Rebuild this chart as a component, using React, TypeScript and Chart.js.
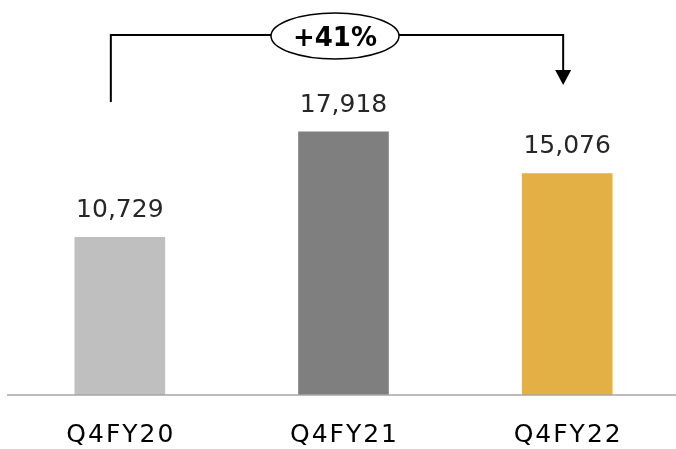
import React, { useEffect, useRef } from "react";
import { Chart, registerables } from "chart.js";

Chart.register(...registerables);

const categories = ["Q4FY20", "Q4FY21", "Q4FY22"];
const values = [10729, 17918, 15076];
const barColors = ["#BFBFBF", "#7F7F7F", "#E3B045"];
const growthLabel = "+41%";
const yMax = 26000;

const overlayPlugin = {
  id: "overlay",
  afterDatasetsDraw(chart: any) {
    const { ctx, chartArea } = chart;
    const xScale = chart.scales.x;
    const meta = chart.getDatasetMeta(0);
    ctx.save();

    // baseline axis line
    ctx.strokeStyle = "#A6A6A6";
    ctx.lineWidth = 1.6;
    ctx.beginPath();
    ctx.moveTo(7, chartArea.bottom);
    ctx.lineTo(676, chartArea.bottom);
    ctx.stroke();

    // value labels
    ctx.font = "25px 'DejaVu Sans'";
    ctx.fillStyle = "#262626";
    ctx.textAlign = "center";
    ctx.textBaseline = "alphabetic";
    meta.data.forEach((bar: any, i: number) => {
      ctx.fillText(values[i].toLocaleString("en-US"), bar.x, bar.y - 20);
    });

    // category labels
    ctx.fillStyle = "#000000";
    const sp = 2;
    (ctx as any).letterSpacing = sp + "px";
    categories.forEach((c, i) => {
      ctx.fillText(c, xScale.getPixelForValue(i) + sp / 2, chartArea.bottom + 47);
    });
    (ctx as any).letterSpacing = "0px";

    // growth bracket
    const xl = meta.data[0].x - 9;
    const xr = meta.data[2].x - 4;
    const yTop = 35;
    const cx = (xl + xr) / 2 - 2;
    const rx = 64;
    const ry = 23;
    ctx.strokeStyle = "#000000";
    ctx.lineWidth = 2;
    ctx.beginPath();
    ctx.moveTo(xl, 102);
    ctx.lineTo(xl, yTop);
    ctx.lineTo(cx - rx, yTop);
    ctx.moveTo(cx + rx, yTop);
    ctx.lineTo(xr, yTop);
    ctx.lineTo(xr, 71);
    ctx.stroke();
    ctx.fillStyle = "#000000";
    ctx.beginPath();
    ctx.moveTo(xr - 8, 70);
    ctx.lineTo(xr + 8, 70);
    ctx.lineTo(xr, 85);
    ctx.closePath();
    ctx.fill();

    ctx.lineWidth = 1.5;
    ctx.beginPath();
    ctx.ellipse(cx, yTop + 1, rx, ry, 0, 0, Math.PI * 2);
    ctx.fillStyle = "#FFFFFF";
    ctx.fill();
    ctx.stroke();

    ctx.fillStyle = "#000000";
    ctx.font = "bold 26px 'DejaVu Sans'";
    ctx.textAlign = "center";
    ctx.fillText(growthLabel, cx, 46);

    ctx.restore();
  },
};

export default function App() {
  const canvasRef = useRef<HTMLCanvasElement | null>(null);

  useEffect(() => {
    if (!canvasRef.current) return;
    const chart = new Chart(canvasRef.current, {
      type: "bar",
      data: {
        labels: categories,
        datasets: [
          {
            data: values,
            backgroundColor: barColors,
            borderWidth: 0,
            barThickness: 90,
          },
        ],
      },
      options: {
        responsive: false,
        animation: false,
        devicePixelRatio: 1,
        layout: { padding: { left: 8, right: 0, top: 13, bottom: 54 } },
        plugins: {
          legend: { display: false },
          tooltip: { enabled: false },
        },
        scales: {
          x: { display: false, offset: true },
          y: { display: false, min: 0, max: yMax },
        },
      },
      plugins: [overlayPlugin],
    });
    return () => chart.destroy();
  }, []);

  return (
    <div
      style={{
        position: "fixed",
        left: 0,
        top: 0,
        width: 676,
        height: 449,
        overflow: "hidden",
        background: "#FFFFFF",
      }}
    >
      <canvas ref={canvasRef} width={679} height={449} style={{ display: "block" }} />
    </div>
  );
}
